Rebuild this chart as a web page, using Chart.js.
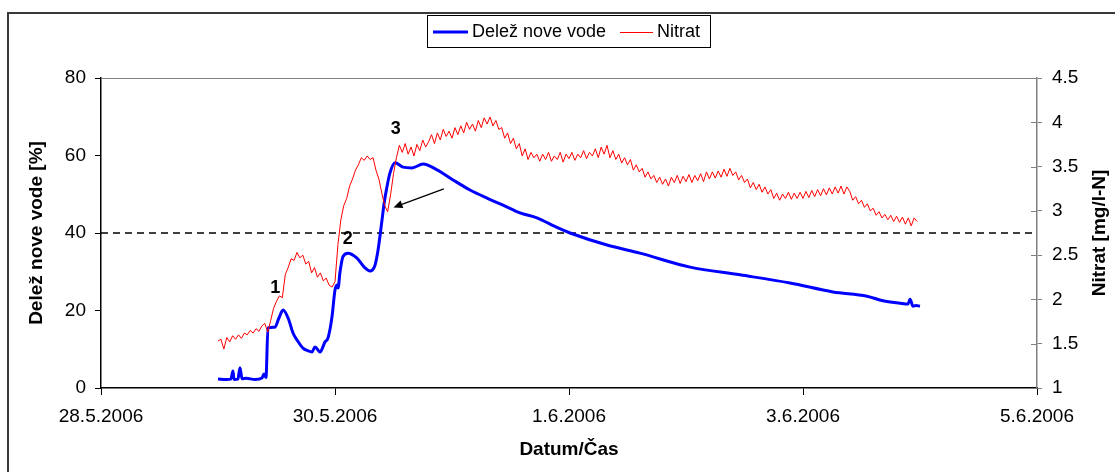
<!DOCTYPE html>
<html><head><meta charset="utf-8">
<script src="https://cdn.jsdelivr.net/npm/chart.js@4.4.0/dist/chart.umd.min.js"></script>
<style>html,body{margin:0;padding:0;background:#fff;}#wrap{width:1115px;height:472px;position:relative}</style>
</head><body><div id="wrap"><canvas id="c" width="1115" height="472"></canvas></div>
<script>
// ---- data (x in days since 28.5.2006 00:00) ----
const xTickLabels = ['28.5.2006','30.5.2006','1.6.2006','3.6.2006','5.6.2006'];
const leftTicks = [0, 20, 40, 60, 80];
const rightTicks = [1, 1.5, 2, 2.5, 3, 3.5, 4, 4.5];
const seriesNames = ['Delež nove vode', 'Nitrat'];

const delezDays = [1.00,1.07,1.11,1.128,1.137,1.17,1.188,1.205,1.24,1.316,1.376,1.393,1.41,1.427,1.487,1.52,1.556,1.60,1.641,1.684,1.726,1.769,1.803,1.829,1.872,1.915,1.94,1.974,2.00,2.017,2.026,2.043,2.068,2.111,2.188,2.256,2.299,2.342,2.368,2.402,2.419,2.444,2.47,2.513,2.581,2.658,2.752,2.872,3.009,3.154,3.299,3.436,3.581,3.726,3.906,4.009,4.325,4.607,5.034,5.462,5.889,6.256,6.547,6.684,6.829,6.897,6.915,6.94,6.966,7.00];
const delezValues = [2.3,2.2,2.3,4.4,2.2,2.3,5.2,2.4,2.5,2.2,2.6,3.6,2.7,15.5,15.7,18,20.1,18,14.2,12,10.3,9.6,9.3,10.6,9.3,11.9,12.9,18.3,25.3,26.6,25.8,30,33.9,34.8,33.5,31,30.2,31.7,35.6,43.4,47.5,51.9,55.5,58.1,57,56.8,57.8,56.3,53.7,51.1,49,47.2,45.2,43.9,41.3,40,36.9,34.8,31.2,29.2,27.1,24.8,23.7,22.5,21.9,21.7,22.9,21.1,21.3,21.1];

const nitratDays = [
1.000,1.025,1.050,1.075,1.100,1.125,1.150,1.175,1.200,1.225,
1.250,1.275,1.300,1.325,1.350,1.375,1.400,1.425,1.450,1.475,
1.500,1.525,1.550,1.575,1.600,1.625,1.650,1.675,1.700,1.725,
1.750,1.775,1.800,1.825,1.850,1.875,1.900,1.925,1.950,1.975,
2.000,2.025,2.050,2.075,2.100,2.125,2.150,2.175,2.200,2.225,
2.250,2.275,2.300,2.325,2.350,2.375,2.400,2.425,2.450,2.475,
2.500,2.525,2.550,2.575,2.600,2.625,2.650,2.675,2.700,2.725,
2.750,2.775,2.800,2.825,2.850,2.875,2.900,2.925,2.950,2.975,
3.000,3.025,3.050,3.075,3.100,3.125,3.150,3.175,3.200,3.225,
3.250,3.275,3.300,3.325,3.350,3.375,3.400,3.425,3.450,3.475,
3.500,3.525,3.550,3.575,3.600,3.625,3.650,3.675,3.700,3.725,
3.750,3.775,3.800,3.825,3.850,3.875,3.900,3.925,3.950,3.975,
4.000,4.025,4.050,4.075,4.100,4.125,4.150,4.175,4.200,4.225,
4.250,4.275,4.300,4.325,4.350,4.375,4.400,4.425,4.450,4.475,
4.500,4.525,4.550,4.575,4.600,4.625,4.650,4.675,4.700,4.725,
4.750,4.775,4.800,4.825,4.850,4.875,4.900,4.925,4.950,4.975,
5.000,5.025,5.050,5.075,5.100,5.125,5.150,5.175,5.200,5.225,
5.250,5.275,5.300,5.325,5.350,5.375,5.400,5.425,5.450,5.475,
5.500,5.525,5.550,5.575,5.600,5.625,5.650,5.675,5.700,5.725,
5.750,5.775,5.800,5.825,5.850,5.875,5.900,5.925,5.950,5.975,
6.000,6.025,6.050,6.075,6.100,6.125,6.150,6.175,6.200,6.225,
6.250,6.275,6.300,6.325,6.350,6.375,6.400,6.425,6.450,6.475,
6.500,6.525,6.550,6.575,6.600,6.625,6.650,6.675,6.700,6.725,
6.750,6.775,6.800,6.825,6.850,6.875,6.900,6.925,6.950,6.975];
const nitratValues = [
1.53,1.55,1.44,1.57,1.52,1.59,1.55,1.60,1.56,1.62,
1.60,1.65,1.62,1.67,1.64,1.70,1.73,1.63,1.76,1.90,
1.98,2.04,2.02,2.28,2.36,2.46,2.44,2.53,2.47,2.50,
2.40,2.43,2.30,2.36,2.25,2.30,2.21,2.24,2.16,2.14,
2.20,2.62,2.90,3.06,3.14,3.28,3.36,3.46,3.52,3.60,
3.57,3.62,3.58,3.60,3.46,3.36,3.20,3.06,2.99,3.18,
3.42,3.60,3.74,3.66,3.76,3.64,3.72,3.62,3.75,3.68,
3.80,3.72,3.78,3.86,3.76,3.88,3.80,3.92,3.84,3.90,
3.82,3.94,3.86,3.96,3.88,4.00,3.92,3.98,3.90,4.02,
3.94,4.05,3.98,4.06,3.96,4.02,3.92,3.94,3.82,3.88,
3.76,3.82,3.70,3.76,3.62,3.70,3.58,3.66,3.60,3.64,
3.56,3.64,3.58,3.66,3.56,3.62,3.58,3.66,3.55,3.64,
3.59,3.66,3.57,3.64,3.60,3.68,3.59,3.66,3.62,3.70,
3.60,3.72,3.64,3.74,3.60,3.68,3.58,3.64,3.54,3.60,
3.52,3.58,3.46,3.52,3.44,3.48,3.38,3.44,3.36,3.40,
3.32,3.38,3.30,3.36,3.28,3.38,3.32,3.40,3.31,3.39,
3.33,3.41,3.32,3.40,3.34,3.42,3.33,3.44,3.36,3.44,
3.37,3.45,3.38,3.47,3.39,3.48,3.40,3.44,3.35,3.40,
3.32,3.36,3.26,3.32,3.24,3.30,3.21,3.27,3.19,3.24,
3.14,3.20,3.12,3.19,3.14,3.21,3.13,3.20,3.14,3.21,
3.14,3.22,3.15,3.23,3.16,3.24,3.17,3.25,3.18,3.26,
3.19,3.27,3.20,3.28,3.19,3.27,3.22,3.12,3.16,3.08,
3.12,3.04,3.08,3.00,3.03,2.95,2.99,2.92,2.96,2.90,
2.95,2.88,2.94,2.87,2.93,2.85,2.92,2.83,2.92,2.88];

const refLevel = 40;               // dashed reference line, left axis
const eventLabels = ['1', '2', '3'];
const eventDays = [1.49, 2.11, 2.52];
const eventValues = [25.8, 38.4, 66.8];
const arrowFrom = [2.93, 51.4];     // day, % (left axis)
const arrowTo = [2.50, 46.6];

// ---- chart ----
const FAMILY = "'Liberation Sans', Arial, sans-serif";
Chart.defaults.font.family = FAMILY;
Chart.defaults.font.size = 19;
Chart.defaults.color = '#000';

const toPts = (xs, ys) => xs.map((x, i) => ({ x: x, y: ys[i] }));

const decor = {
  id: 'decor',
  beforeDraw(chart) {
    const ctx = chart.ctx;
    ctx.save();
    ctx.fillStyle = '#fff';
    ctx.fillRect(0, 0, chart.width, chart.height);
    ctx.strokeStyle = '#3a3a3a';
    ctx.lineWidth = 2;
    ctx.beginPath();
    ctx.moveTo(8, chart.height + 2);
    ctx.lineTo(8, 13);
    ctx.lineTo(chart.width + 2, 13);
    ctx.stroke();
    ctx.restore();
  },
  afterDraw(chart) {
    const ctx = chart.ctx;
    const a = chart.chartArea;
    const xs = chart.scales.x, y = chart.scales.y, y2 = chart.scales.y2;
    ctx.save();
    // top frame line
    ctx.strokeStyle = '#808080';
    ctx.lineWidth = 1;
    ctx.beginPath();
    ctx.moveTo(a.left, Math.round(a.top) + 0.5);
    ctx.lineTo(a.right, Math.round(a.top) + 0.5);
    ctx.stroke();
    // inward ticks on right axis
    ctx.beginPath();
    rightTicks.forEach(v => {
      const py = Math.round(y2.getPixelForValue(v)) + 0.5;
      ctx.moveTo(a.right - 6, py);
      ctx.lineTo(a.right, py);
    });
    ctx.stroke();

    // event labels
    ctx.fillStyle = '#000';
    ctx.font = 'bold 18px ' + FAMILY;
    ctx.textAlign = 'center';
    ctx.textBaseline = 'middle';
    eventLabels.forEach((t, i) => {
      ctx.fillText(t, xs.getPixelForValue(eventDays[i]), y.getPixelForValue(eventValues[i]));
    });

    // arrow
    const x1 = xs.getPixelForValue(arrowFrom[0]), y1 = y.getPixelForValue(arrowFrom[1]);
    const x2 = xs.getPixelForValue(arrowTo[0]), y2p = y.getPixelForValue(arrowTo[1]);
    const ang = Math.atan2(y2p - y1, x2 - x1);
    ctx.strokeStyle = '#000';
    ctx.lineWidth = 1.3;
    ctx.beginPath();
    ctx.moveTo(x1, y1);
    ctx.lineTo(x2 - 6 * Math.cos(ang), y2p - 6 * Math.sin(ang));
    ctx.stroke();
    ctx.beginPath();
    ctx.moveTo(x2, y2p);
    ctx.lineTo(x2 - 9 * Math.cos(ang) + 4 * Math.sin(ang), y2p - 9 * Math.sin(ang) - 4 * Math.cos(ang));
    ctx.lineTo(x2 - 9 * Math.cos(ang) - 4 * Math.sin(ang), y2p - 9 * Math.sin(ang) + 4 * Math.cos(ang));
    ctx.closePath();
    ctx.fill();

    // axis titles
    ctx.font = 'bold 19px ' + FAMILY;
    ctx.textAlign = 'center';
    ctx.textBaseline = 'middle';
    ctx.fillText('Datum/Čas', (a.left + a.right) / 2, 450);
    ctx.save();
    ctx.translate(37, (a.top + a.bottom) / 2);
    ctx.rotate(-Math.PI / 2);
    ctx.fillText('Delež nove vode [%]', 0, 0);
    ctx.restore();
    ctx.save();
    ctx.translate(1100, (a.top + a.bottom) / 2);
    ctx.rotate(-Math.PI / 2);
    ctx.fillText('Nitrat [mg/l-N]', 0, 0);
    ctx.restore();

    // legend
    ctx.strokeStyle = '#000';
    ctx.lineWidth = 1;
    ctx.strokeRect(427.5, 15.5, 283, 32);
    ctx.font = '18px ' + FAMILY;
    ctx.textAlign = 'left';
    ctx.strokeStyle = '#0000ff';
    ctx.lineWidth = 3;
    ctx.beginPath(); ctx.moveTo(433, 32); ctx.lineTo(468, 32); ctx.stroke();
    ctx.fillText(seriesNames[0], 472, 32);
    ctx.strokeStyle = '#ff0000';
    ctx.lineWidth = 1;
    ctx.beginPath(); ctx.moveTo(620, 32.5); ctx.lineTo(653, 32.5); ctx.stroke();
    ctx.fillText(seriesNames[1], 657, 32);
    ctx.restore();
  }
};

new Chart(document.getElementById('c'), {
  type: 'line',
  data: {
    datasets: [
      {
        label: seriesNames[1],
        data: toPts(nitratDays, nitratValues),
        yAxisID: 'y2',
        borderColor: '#ff0000',
        borderWidth: 1,
        pointRadius: 0,
        tension: 0,
        order: 0
      },
      {
        label: seriesNames[0],
        data: toPts(delezDays, delezValues),
        yAxisID: 'y',
        borderColor: '#0000ff',
        borderWidth: 3,
        pointRadius: 0,
        cubicInterpolationMode: 'monotone',
        order: 1
      },
      {
        label: 'ref',
        data: [{ x: 0, y: refLevel }, { x: 8, y: refLevel }],
        yAxisID: 'y',
        borderColor: '#000',
        borderWidth: 1.5,
        borderDash: [7, 5],
        pointRadius: 0,
        order: 2
      }
    ]
  },
  options: {
    responsive: false,
    animation: false,
    devicePixelRatio: 1,
    layout: { padding: { top: 78, left: 0, right: 0, bottom: 0 } },
    plugins: { legend: { display: false }, tooltip: { enabled: false } },
    scales: {
      x: {
        type: 'linear', position: 'bottom', min: 0, max: 8,
        afterFit: s => { s.height = 84; },
        afterBuildTicks: s => { s.ticks = [0, 2, 4, 6, 8].map(v => ({ value: v })); },
        ticks: { callback: (v) => xTickLabels[Math.round(v / 2)], padding: 10, maxRotation: 0, autoSkip: false },
        grid: { display: true, drawOnChartArea: false, drawTicks: true, tickLength: 7, color: '#000', lineWidth: 1 },
        border: { color: '#000', width: 1.5 }
      },
      y: {
        position: 'left', min: 0, max: 80,
        afterFit: s => { s.width = 101; },
        afterBuildTicks: s => { s.ticks = leftTicks.map(v => ({ value: v })); },
        ticks: { padding: 9 },
        grid: { display: true, drawOnChartArea: false, drawTicks: true, tickLength: 6, color: '#000' },
        border: { color: '#000', width: 1.5 }
      },
      y2: {
        position: 'right', min: 1, max: 4.5,
        afterFit: s => { s.width = 78; },
        afterBuildTicks: s => { s.ticks = rightTicks.map(v => ({ value: v })); },
        ticks: { padding: 10, callback: v => String(v) },
        grid: { display: true, drawOnChartArea: false, drawTicks: true, tickLength: 5, color: '#808080' },
        border: { color: '#808080', width: 1.5 }
      }
    }
  },
  plugins: [decor]
});
</script>
</body></html>
